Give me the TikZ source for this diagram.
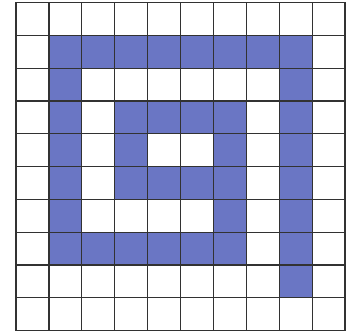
\documentclass[tikz,border=0pt]{standalone}
\definecolor{spiralblue}{RGB}{106,118,196}
\definecolor{gridgray}{RGB}{50,50,50}
\tikzset{
  bluecell/.style={fill=spiralblue},
  gridline/.style={draw=gridgray, line width=1.2pt}
}
\begin{document}
\begin{tikzpicture}
\useasboundingbox (0,0) rectangle (350pt,333pt);
\fill[white] (0,0) rectangle (350pt,333pt);
\begin{scope}[shift={(16pt,330.5pt)}, x=32.9pt, y=-32.8pt]
  % blue cells (col,row)
  \foreach \c in {1,...,8} \fill[bluecell] (\c,1) rectangle ++(1,1);
  \foreach \r in {2,...,8} \fill[bluecell] (8,\r) rectangle ++(1,1);
  \foreach \r in {2,...,7} \fill[bluecell] (1,\r) rectangle ++(1,1);
  \foreach \c in {2,...,6} \fill[bluecell] (\c,7) rectangle ++(1,1);
  \foreach \r in {3,...,6} \fill[bluecell] (6,\r) rectangle ++(1,1);
  \foreach \c in {3,...,5} \fill[bluecell] (\c,3) rectangle ++(1,1);
  \foreach \r in {4,5} \fill[bluecell] (3,\r) rectangle ++(1,1);
  \foreach \c in {4,5} \fill[bluecell] (\c,5) rectangle ++(1,1);
  % grid
  \foreach \i in {0,...,10} {
    \draw[gridline] (\i,0) -- (\i,10);
    \draw[gridline] (0,\i) -- (10,\i);
  }
  \draw[gridline, line join=miter] (0,0) rectangle (10,10);
\end{scope}
\end{tikzpicture}
\end{document}
